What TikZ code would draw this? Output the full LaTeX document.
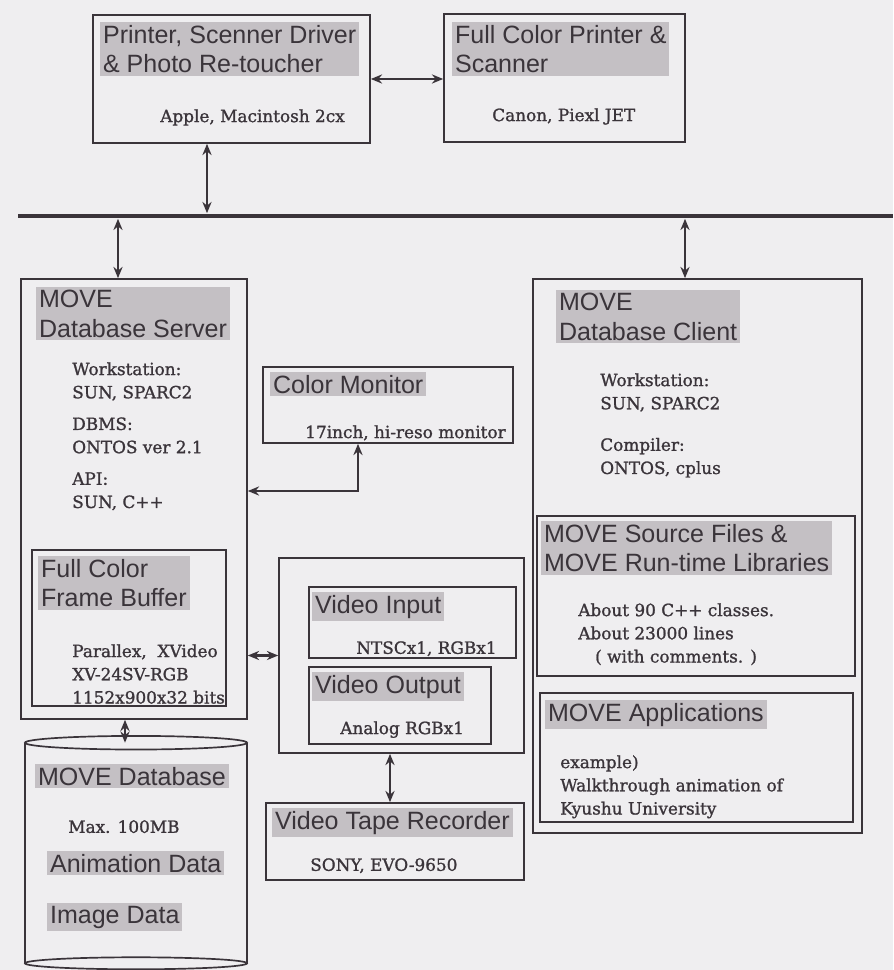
\documentclass[tikz,border=0pt]{standalone}
\usepackage{fontspec}
\usetikzlibrary{arrows.meta,fit}
\newfontfamily\hdrfont{Liberation Sans}
\newfontfamily\txtfont[FakeBold=1.2]{DejaVu Serif}
\definecolor{ink}{RGB}{58,52,58}
\definecolor{shade}{RGB}{196,192,196}
\definecolor{paper}{RGB}{239,238,240}

\tikzset{
  box/.style={draw=ink, line width=1.2pt, inner sep=0pt},
  hdr/.style={fill=shade, anchor=north west, inner sep=2pt, align=left, text=ink,
    font=\hdrfont\fontsize{17.8}{21}\selectfont},
  txt/.style={anchor=north west, inner sep=0pt, align=left, text=ink,
    font=\txtfont\fontsize{12}{16.5}\selectfont},
  link/.style={draw=ink, line width=2pt,
    {Stealth[length=8pt,width=6.5pt]}-{Stealth[length=8pt,width=6.5pt]}},
}

\begin{document}
\begin{tikzpicture}[x=0.025cm, y=-0.025cm]
  \useasboundingbox (0,0) rectangle (893,970);
  \fill[paper] (0,0) rectangle (893,970);

  % printer and scanner
  \node[box, fit={(93,15) (370,143)}] (prn) {};
  \node[hdr] (prnH) at (100,22) {Printer, Scenner Driver\\\& Photo Re-toucher};
  \node[txt] (prnT) at (160,109) {Apple, Macintosh 2cx};
  \node[box, fit={(444,14) (685,142)}] (fcs) {};
  \node[hdr] (fcsH) at (452,22) {Full Color Printer \&\\Scanner};
  \node[txt] (fcsT) at (492,108) {Canon, Piexl JET};

  % network
  \draw[ink, line width=3.5pt] (18,216) -- (893,216);
  \coordinate (pa) at (207,216);
  \coordinate (pb) at (118,216);
  \coordinate (pc) at (685,216);

  % server side
  \node[box, fit={(21,279) (247,719)}] (srv) {};
  \node[hdr] (srvH) at (36,287) {MOVE\\Database Server};
  \node[txt] (srvT) at (72,362) {Workstation:\\SUN, SPARC2\\[6pt]DBMS:\\ONTOS ver 2.1\\[6pt]API:\\SUN, C++};
  \node[box, fit={(32,550) (226,706)}] (fb) {};
  \node[hdr] (fbH) at (38,556) {Full Color\\Frame Buffer};
  \node[txt] (fbT) at (72,644) {Parallex,\ \ XVideo\\XV-24SV-RGB\\1152x900x32 bits};

  \node[box, fit={(263,367) (513,443)}] (mon) {};
  \node[hdr] (monH) at (270,372) {Color Monitor};
  \node[txt] (monT) at (305,425) {17inch, hi-reso monitor};

  \node[box, fit={(279,558) (524,753)}] (vid) {};
  \node[box, fit={(309,587) (516,658)}] (vin) {};
  \node[hdr] (vinH) at (312,592) {Video Input};
  \node[txt] (vinT) at (356,641) {NTSCx1, RGBx1};
  \node[box, fit={(309,667) (491,744)}] (vout) {};
  \node[hdr] (voutH) at (312,672) {Video Output};
  \node[txt] (voutT) at (340,721) {Analog RGBx1};

  \node[box, fit={(266,803) (524,880)}] (vtr) {};
  \node[hdr] (vtrH) at (272,808) {Video Tape Recorder};
  \node[txt] (vtrT) at (310,858) {SONY, EVO-9650};

  % database
  \node[inner sep=0pt, fit={(25,743) (247,963)}] (db) {};
  \draw[ink, line width=1.2pt] (db.north west) -- (db.south west) (db.north east) -- (db.south east);
  \draw[ink, line width=1.2pt, fill=paper] (db.north) ellipse [x radius=2.775cm, y radius=0.17cm];
  \draw[ink, line width=1.2pt, fill=paper] (db.south) ellipse [x radius=2.775cm, y radius=0.15cm];
  \node[hdr] (dbH) at (35,764) {MOVE Database};
  \node[txt] (dbT) at (68,820) {Max. 100MB};
  \node[hdr] (animH) at (47,851) {Animation Data};
  \node[hdr] (imgH) at (47,903) {Image Data};

  % client side
  \node[box, fit={(533,279) (862,833)}] (cli) {};
  \node[hdr] (cliH) at (556,290) {MOVE\\Database Client};
  \node[txt] (cliT) at (600,373) {Workstation:\\SUN, SPARC2\\[13pt]Compiler:\\ONTOS, cplus};
  \node[box, fit={(537,516) (855,676)}] (src) {};
  \node[hdr] (srcH) at (541,521) {MOVE Source Files \&\\MOVE Run-time Libraries};
  \node[txt] (srcT) at (578,603) {About 90 C++ classes.\\About 23000 lines\\\hspace*{12pt}( with comments. )};
  \node[box, fit={(540,693) (853,822)}] (app) {};
  \node[hdr] (appH) at (545,700) {MOVE Applications};
  \node[txt] (appT) at (560,755) {example)\\Walkthrough animation of\\Kyushu University};

  % connectors
  \coordinate (mk) at (358,491);
  \coordinate (vk) at (390,780);
  \coordinate (dk) at (125,730);
  \draw[link] (prn.east) -- (prn.east -| fcs.west);
  \draw[link] (prn.south -| pa) -- ([yshift=2pt]pa);
  \draw[link] ([yshift=-2pt]pb) -- (pb |- srv.north);
  \draw[link] ([yshift=-2pt]pc) -- (pc |- cli.north);
  \draw[link] (mon.south -| mk) |- (srv.east |- mk);
  \draw[link] (srv.east |- vid.west) -- (vid.west);
  \draw[link] (vid.south -| vk) -- (vtr.north -| vk);
  \draw[link] (srv.south -| dk) -- (db.north -| dk);
\end{tikzpicture}
\end{document}
